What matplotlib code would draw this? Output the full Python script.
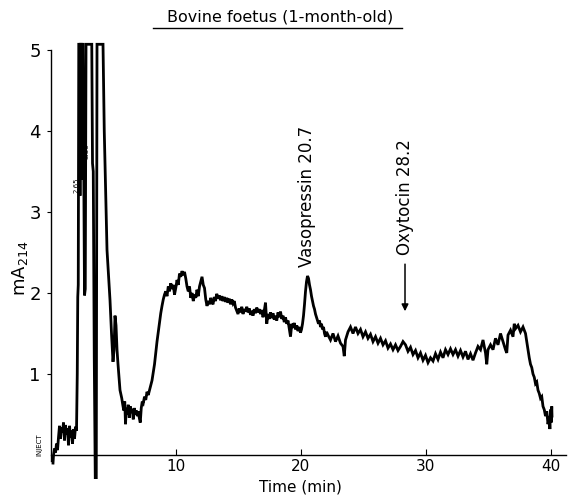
import numpy as np
import matplotlib
matplotlib.use("Agg")
import matplotlib.pyplot as plt
from matplotlib.lines import Line2D

# start of run, just after injection
t_start = [0.20, 0.24, 0.32, 0.40, 0.48, 0.56, 0.64, 0.72, 0.80, 0.88, 0.96, 1.04, 1.12,
           1.20, 1.28, 1.36, 1.44, 1.52, 1.60, 1.68, 1.76, 1.84, 1.92, 2.00, 2.08]
a_start = [-0.10, 0.00, 0.08, 0.03, 0.14, 0.06, 0.22, 0.36, 0.20, 0.34, 0.28, 0.40, 0.18,
           0.37, 0.25, 0.33, 0.12, 0.36, 0.22, 0.30, 0.14, 0.32, 0.20, 0.35, 0.30]

# off-scale solvent peaks (2.65, 3.30 ...)
t_front = [2.14, 2.18, 2.22, 2.26, 2.32, 2.36, 2.40, 2.46, 2.50, 2.54, 2.60, 2.72, 2.78,
           2.84, 3.30, 3.36, 3.42, 3.50, 3.58, 3.66, 3.72, 4.20, 4.30, 4.52, 4.76, 4.88,
           5.00, 5.08, 5.16, 5.24, 5.32, 5.40, 5.56, 5.70]
a_front = [1.00, 1.95, 2.10, 5.07, 5.07, 3.20, 5.07, 5.07, 3.40, 5.07, 5.07, 1.97, 2.05,
           5.07, 5.07, 3.60, 3.50, 1.20, -0.28, -0.28, 5.07, 5.07, 4.00, 2.53, 1.91, 1.50,
           1.15, 1.30, 1.72, 1.60, 1.30, 1.12, 0.80, 0.70]

# trough
t_trough = [5.78, 5.86, 5.94, 6.00, 6.06, 6.14, 6.22, 6.30, 6.38, 6.46, 6.54, 6.62, 6.70,
            6.78, 6.86, 6.94, 7.02, 7.10, 7.18, 7.26, 7.34]
a_trough = [0.62, 0.55, 0.66, 0.38, 0.58, 0.50, 0.62, 0.46, 0.60, 0.52, 0.57, 0.44, 0.58,
            0.50, 0.55, 0.48, 0.54, 0.46, 0.40, 0.58, 0.66]

# rise and broad hump
t_rise = [7.42, 7.52, 7.62, 7.72, 7.82, 7.92, 8.02, 8.12, 8.22, 8.32, 8.42, 8.52, 8.62,
          8.72, 8.82, 8.92, 9.02, 9.12, 9.22, 9.32]
a_rise = [0.64, 0.72, 0.68, 0.78, 0.74, 0.80, 0.86, 0.92, 1.02, 1.12, 1.26, 1.40, 1.52,
          1.64, 1.75, 1.84, 1.92, 1.98, 2.02, 1.96]

t_hump = [9.42, 9.52, 9.62, 9.72, 9.82, 9.92, 10.02, 10.12, 10.22, 10.32, 10.42, 10.52,
          10.62, 10.72, 10.82, 10.92, 11.02, 11.12, 11.22, 11.32, 11.42, 11.52, 11.62,
          11.72, 11.82, 11.92, 12.02, 12.12, 12.22, 12.32, 12.42, 12.52, 12.62, 12.72,
          12.82, 12.92]
a_hump = [2.08, 2.02, 2.12, 2.05, 2.10, 1.98, 2.06, 2.16, 2.10, 2.24, 2.20, 2.27, 2.22,
          2.26, 2.18, 2.08, 2.02, 2.08, 1.94, 2.00, 1.90, 1.98, 1.94, 2.04, 1.96, 2.08,
          2.14, 2.20, 2.10, 2.06, 1.92, 1.84, 1.90, 1.86, 1.94, 1.88]

t_mid = [13.0, 13.1, 13.2, 13.3, 13.4, 13.5, 13.6, 13.7, 13.8, 13.9, 14.0, 14.1, 14.2,
         14.3, 14.4, 14.5, 14.6, 14.7, 14.8, 14.9, 15.0, 15.1, 15.2, 15.3, 15.4, 15.5,
         15.6, 15.7, 15.8, 15.9, 16.0, 16.1, 16.2, 16.3, 16.4, 16.5, 16.6, 16.7, 16.8,
         16.9, 17.0, 17.1, 17.2, 17.3, 17.4, 17.5, 17.6, 17.7, 17.8, 17.9, 18.0, 18.1,
         18.2, 18.3, 18.4, 18.5, 18.6, 18.7, 18.8, 18.9, 19.0, 19.1, 19.2, 19.3, 19.4,
         19.5, 19.6, 19.7, 19.8, 19.9, 20.0]
a_mid = [1.86, 1.95, 1.90, 1.99, 1.93, 1.97, 1.91, 1.96, 1.90, 1.95, 1.89, 1.94, 1.88,
         1.93, 1.86, 1.92, 1.87, 1.90, 1.82, 1.78, 1.74, 1.81, 1.76, 1.83, 1.74, 1.80,
         1.77, 1.83, 1.76, 1.81, 1.73, 1.78, 1.72, 1.80, 1.75, 1.82, 1.76, 1.80, 1.74,
         1.79, 1.70, 1.78, 1.88, 1.62, 1.74, 1.68, 1.76, 1.69, 1.75, 1.67, 1.72, 1.66,
         1.76, 1.70, 1.77, 1.68, 1.72, 1.64, 1.70, 1.62, 1.66, 1.56, 1.46, 1.62, 1.57,
         1.63, 1.55, 1.60, 1.53, 1.58, 1.51]

# vasopressin peak
t_avp = [20.08, 20.16, 20.24, 20.32, 20.40, 20.48, 20.56, 20.64, 20.72, 20.80, 20.88,
         20.96, 21.04, 21.12, 21.20, 21.28, 21.36, 21.44, 21.52, 21.60, 21.68, 21.76,
         21.84, 21.92, 22.00, 22.08]
a_avp = [1.55, 1.62, 1.72, 1.86, 2.02, 2.14, 2.21, 2.18, 2.10, 2.04, 1.96, 1.90, 1.84,
         1.80, 1.74, 1.70, 1.66, 1.62, 1.66, 1.58, 1.62, 1.55, 1.58, 1.50, 1.46, 1.52]

# tail of the run
t_tail = [22.2, 22.4, 22.6, 22.8, 23.0, 23.2, 23.4, 23.5, 23.6, 23.8, 24.0, 24.2, 24.4,
          24.6, 24.8, 25.0, 25.2, 25.4, 25.6, 25.8, 26.0, 26.2, 26.4, 26.6, 26.8, 27.0,
          27.2, 27.4, 27.6, 27.8, 28.0, 28.2, 28.4, 28.6, 28.8, 29.0, 29.2, 29.4, 29.6,
          29.8, 30.0, 30.2, 30.4, 30.6, 30.8, 31.0, 31.2, 31.4, 31.6, 31.8, 32.0, 32.2,
          32.4, 32.6, 32.8, 33.0, 33.2, 33.4, 33.6, 33.8, 34.0, 34.2, 34.4, 34.6, 34.8,
          34.9, 35.0, 35.2, 35.4, 35.6, 35.8, 36.0, 36.2, 36.4, 36.5, 36.6, 36.8, 37.0,
          37.1, 37.2, 37.4, 37.6, 37.8, 38.0, 38.1, 38.2, 38.3, 38.4, 38.5, 38.6, 38.7,
          38.8, 38.9, 39.0, 39.1, 39.2, 39.3, 39.4, 39.5, 39.6, 39.7, 39.8, 39.9, 39.95,
          40.0, 40.05, 40.1, 40.12]
a_tail = [1.48, 1.42, 1.50, 1.40, 1.47, 1.38, 1.34, 1.22, 1.42, 1.52, 1.58, 1.50, 1.58,
          1.50, 1.55, 1.46, 1.52, 1.44, 1.49, 1.40, 1.46, 1.38, 1.44, 1.36, 1.41, 1.32,
          1.37, 1.30, 1.36, 1.29, 1.34, 1.40, 1.36, 1.28, 1.33, 1.24, 1.29, 1.20, 1.26,
          1.17, 1.23, 1.14, 1.20, 1.16, 1.25, 1.18, 1.27, 1.20, 1.30, 1.24, 1.31, 1.24,
          1.30, 1.22, 1.29, 1.21, 1.28, 1.18, 1.25, 1.17, 1.26, 1.34, 1.30, 1.42, 1.26,
          1.12, 1.30, 1.36, 1.30, 1.44, 1.36, 1.50, 1.40, 1.30, 1.26, 1.48, 1.54, 1.46,
          1.62, 1.56, 1.60, 1.52, 1.58, 1.50, 1.40, 1.30, 1.20, 1.12, 1.08, 1.00, 0.96,
          0.88, 0.90, 0.80, 0.76, 0.70, 0.72, 0.60, 0.56, 0.48, 0.54, 0.38, 0.48, 0.32,
          0.56, 0.40, 0.60, 0.48]

x_ticks = [10, 20, 30, 40]
y_ticks = [1, 2, 3, 4, 5]

time_min = np.concatenate([t_start, t_front, t_trough, t_rise, t_hump, t_mid, t_avp, t_tail])
mA214 = np.concatenate([a_start, a_front, a_trough, a_rise, a_hump, a_mid, a_avp, a_tail])

fig = plt.figure(figsize=(5.74, 4.96), dpi=100)
ax = fig.add_axes([0.088, 0.0337, 0.8972, 0.8819])
ax.plot(time_min, mA214, color="black", lw=2.0, solid_joinstyle="miter")
ax.set_xlim(0, 41.2)
ax.set_ylim(-0.3, 5.1)

ax.spines["top"].set_visible(False)
ax.spines["right"].set_visible(False)
ax.spines["bottom"].set_position(("data", 0))
ax.spines["left"].set_bounds(-0.08, 5.0)
ax.spines["left"].set_linewidth(1.0)
ax.spines["bottom"].set_linewidth(1.0)

ax.set_xticks(x_ticks)
ax.set_yticks(y_ticks)
ax.tick_params(axis="x", direction="in", length=4, labelsize=11, pad=3)
ax.tick_params(axis="y", direction="out", length=3, labelsize=13, pad=4)

# peak labels
ax.text(20.5, 2.32, "Vasopressin 20.7", rotation=90, ha="center", va="bottom", fontsize=12)
ax.text(28.36, 2.47, "Oxytocin 28.2", rotation=90, ha="center", va="bottom", fontsize=12)
ax.annotate("", xy=(28.36, 1.74), xytext=(28.36, 2.39),
            arrowprops=dict(arrowstyle="-|>", color="black", lw=1.1, mutation_scale=10))

# integrator retention times
ax.text(2.05, 3.33, "2.65", rotation=90, ha="center", va="center", fontsize=5)
ax.text(2.9, 3.75, "3.30", rotation=90, ha="center", va="center", fontsize=5)
ax.text(-0.9, 0.13, "INJECT", rotation=90, ha="center", va="center", fontsize=5, clip_on=False)

# axis labels and title
fig.text(20 / 574, 1 - 268 / 496, "mA$_{214}$", rotation=90, ha="center", va="center", fontsize=13)
fig.text(300 / 574, 1 - 487 / 496, "Time (min)", ha="center", va="center", fontsize=11)
fig.text(280 / 574, 1 - 17 / 496, "Bovine foetus (1-month-old)", ha="center", va="center", fontsize=11.5)
fig.add_artist(Line2D([153 / 574, 402 / 574], [1 - 28 / 496, 1 - 28 / 496],
                      color="black", lw=1.0, transform=fig.transFigure))

fig.savefig("out.png", dpi=100)
